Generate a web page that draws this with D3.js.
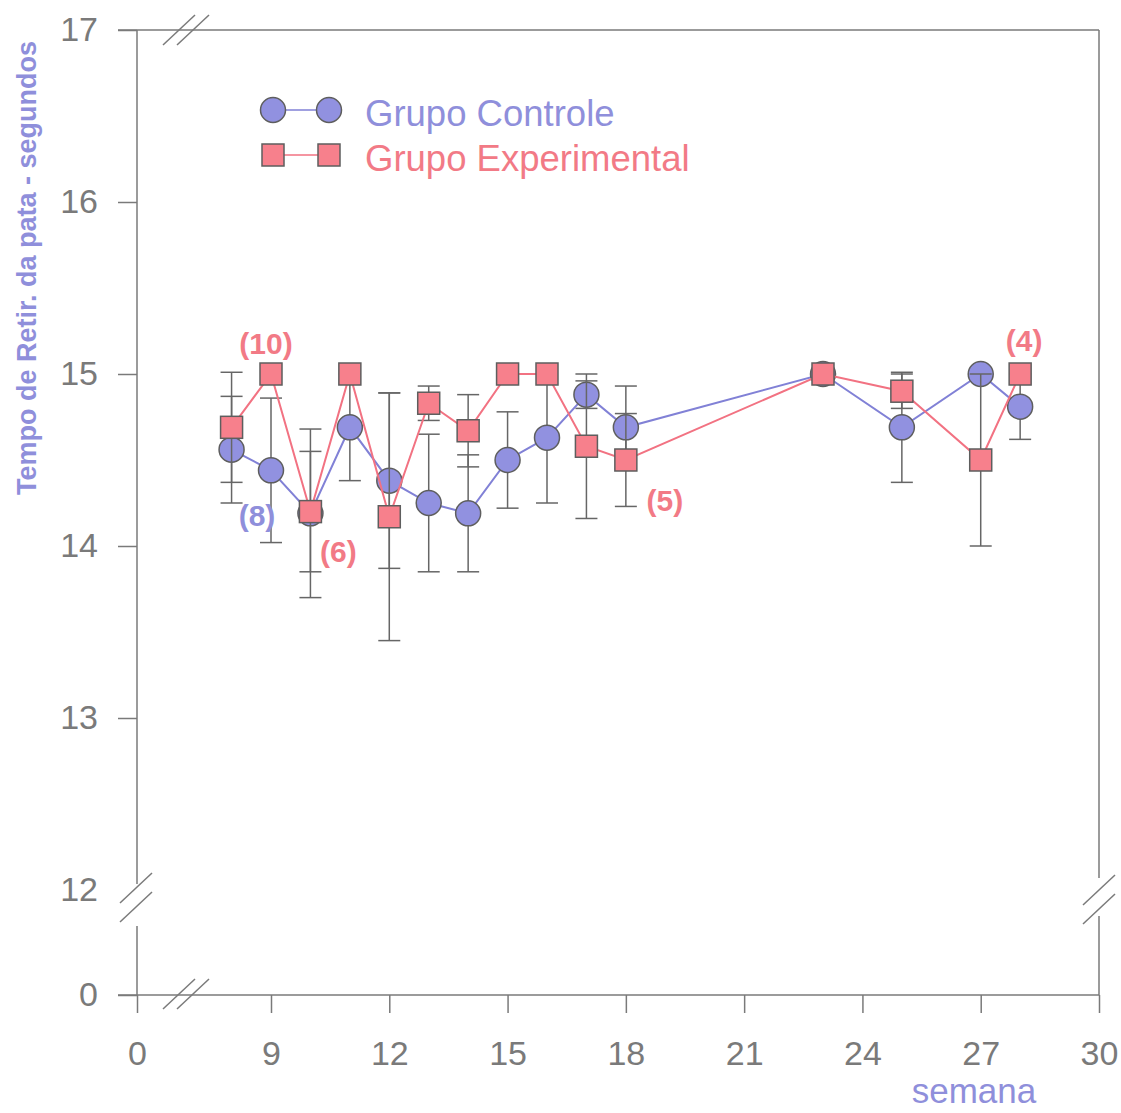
<!DOCTYPE html>
<html>
<head>
<meta charset="utf-8">
<script src="https://cdn.jsdelivr.net/npm/d3@7/dist/d3.min.js"></script>
<style>
  html, body { margin: 0; padding: 0; background: #fff; }
  svg { display: block; font-family: "Liberation Sans", Arial, sans-serif; }
</style>
</head>
<body>
<svg id="chart" width="1121" height="1113"></svg>
<script>
// Weeks of measurement
const weeks = [8, 9, 10, 11, 12, 13, 14, 15, 16, 17, 18, 23, 25, 27, 28];

// Grupo Controle: mean paw withdrawal time (s) and error
const controlMean = [14.56, 14.44, 14.19, 14.69, 14.38, 14.25, 14.19, 14.50, 14.63, 14.88, 14.69, 15.00, 14.69, 15.00, 14.81];
const controlErr  = [0.31, 0.42, 0.49, 0.31, 0.51, 0.40, 0.34, 0.28, 0.38, 0.08, 0.24, 0, 0.32, 0, 0.19];

// Grupo Experimental: mean paw withdrawal time (s) and error
const experimentalMean = [14.69, 15.00, 14.20, 15.00, 14.17, 14.83, 14.67, 15.00, 15.00, 14.58, 14.50, 15.00, 14.90, 14.50, 15.00];
const experimentalErr  = [0.32, 0, 0.35, 0, 0.72, 0.10, 0.21, 0, 0, 0.42, 0.27, 0, 0.10, 0.50, 0];

// Axis ticks (both axes are broken: 0 -> 7 on x, 0 -> 12 on y)
const xTicks = [0, 9, 12, 15, 18, 21, 24, 27, 30];
const yTicks = [0, 12, 13, 14, 15, 16, 17];

// Sample sizes written next to the series
const noteTexts = ["(10)", "(8)", "(6)", "(5)", "(4)"];
const noteWeeks = [9, 9, 10, 18, 28];

const seriesNames = ["Grupo Controle", "Grupo Experimental"];

const C = {
  axis: "#7a7a7a",
  tick: "#7a7a7a",
  err: "#666666",
  marker: "#5e5e5e",
  blueFill: "#9191e0",
  blueLine: "#8181d6",
  blueText: "#8f8fdb",
  redFill: "#f7808c",
  redLine: "#f27282",
  redText: "#f27a86"
};

const svg = d3.select("#chart");

// Piecewise scales reproduce the axis breaks (linear from week 7 onward, from 12 s upward)
const pxPerWeek = (1099 - 271) / 21;
const x = d3.scaleLinear().domain([0, 7, 30]).range([137, 271 - 2 * pxPerWeek, 1099]);
const y = d3.scaleLinear().domain([0, 12, 17]).range([995, 890, 30]);

const plotLeft = x(0), plotRight = x(30), plotTop = y(17), plotBottom = y(0);

// ---- frame ----
const frame = svg.append("g").attr("stroke", C.axis).attr("stroke-width", 1.5).attr("fill", "none");
// top line
frame.append("line").attr("x1", plotLeft - 19).attr("x2", plotRight).attr("y1", plotTop).attr("y2", plotTop);
// right line with a gap for the break
frame.append("line").attr("x1", plotRight).attr("x2", plotRight).attr("y1", plotTop).attr("y2", 878);
frame.append("line").attr("x1", plotRight).attr("x2", plotRight).attr("y1", 916).attr("y2", plotBottom);

// ---- y axis ----
const yAxis = d3.axisLeft(y).tickValues(yTicks).tickSize(19).tickPadding(20).tickFormat(d3.format("d"));
const gy = svg.append("g").attr("transform", `translate(${plotLeft},0)`).call(yAxis);
gy.select(".domain").remove();
gy.selectAll(".tick line").attr("stroke", C.axis).attr("stroke-width", 1.5)
  .filter(d => d === 12).remove();
gy.selectAll(".tick text").attr("fill", C.tick).attr("font-size", 34)
  .attr("font-family", "Liberation Sans, Arial, sans-serif");
// y axis line with a gap for the break
frame.append("line").attr("x1", plotLeft).attr("x2", plotLeft).attr("y1", plotTop).attr("y2", 884);
frame.append("line").attr("x1", plotLeft).attr("x2", plotLeft).attr("y1", 926).attr("y2", plotBottom);

// ---- x axis ----
const xAxis = d3.axisBottom(x).tickValues(xTicks).tickSize(18).tickPadding(28).tickFormat(d3.format("d"));
const gx = svg.append("g").attr("transform", `translate(0,${plotBottom})`).call(xAxis);
gx.select(".domain").remove();
gx.selectAll(".tick line").attr("stroke", C.axis).attr("stroke-width", 1.5);
gx.selectAll(".tick text").attr("fill", C.tick).attr("font-size", 34)
  .attr("font-family", "Liberation Sans, Arial, sans-serif");
frame.append("line").attr("x1", plotLeft - 19).attr("x2", plotRight).attr("y1", plotBottom).attr("y2", plotBottom);

// ---- break marks "//" ----
const slash = (x0, y0) => {
  frame.append("line").attr("x1", x0).attr("y1", y0).attr("x2", x0 + 32).attr("y2", y0 - 30);
};
// on the x axis (bottom and top)
slash(163, 1009); slash(177, 1009);
slash(163, 45); slash(177, 45);
// on the y axis (left and right)
slash(120, 903); slash(120, 922);
slash(1083, 905); slash(1083, 924);

// ---- axis titles ----
svg.append("text")
  .attr("transform", `translate(36,${268}) rotate(-90)`)
  .attr("text-anchor", "middle")
  .attr("font-size", 27).attr("font-weight", "bold")
  .attr("fill", C.blueText)
  .text("Tempo de Retir. da pata - segundos");

svg.append("text")
  .attr("x", 974).attr("y", 1103)
  .attr("text-anchor", "middle")
  .attr("font-size", 35)
  .attr("fill", C.blueText)
  .text("semana");

// ---- series ----
const control = weeks.map((w, i) => ({ w, m: controlMean[i], e: controlErr[i] }));
const experimental = weeks.map((w, i) => ({ w, m: experimentalMean[i], e: experimentalErr[i] }));

const line = d3.line().x(d => x(d.w)).y(d => y(d.m));
const capW = 11;

function errorBars(data) {
  const g = svg.append("g").attr("stroke", C.err).attr("stroke-width", 1.5);
  data.filter(d => d.e > 0).forEach(d => {
    const cx = x(d.w), y1 = y(d.m + d.e), y2 = y(d.m - d.e);
    g.append("line").attr("x1", cx).attr("x2", cx).attr("y1", y1).attr("y2", y2);
    g.append("line").attr("x1", cx - capW).attr("x2", cx + capW).attr("y1", y1).attr("y2", y1);
    g.append("line").attr("x1", cx - capW).attr("x2", cx + capW).attr("y1", y2).attr("y2", y2);
  });
}

// Controle
errorBars(control);
svg.append("path").datum(control).attr("d", line)
  .attr("fill", "none").attr("stroke", C.blueLine).attr("stroke-width", 2);
svg.append("g").selectAll("circle").data(control).join("circle")
  .attr("cx", d => x(d.w)).attr("cy", d => y(d.m)).attr("r", 12.5)
  .attr("fill", C.blueFill).attr("stroke", C.marker).attr("stroke-width", 1.5);

// Experimental
errorBars(experimental);
svg.append("path").datum(experimental).attr("d", line)
  .attr("fill", "none").attr("stroke", C.redLine).attr("stroke-width", 2);
const sq = 22;
svg.append("g").selectAll("rect").data(experimental).join("rect")
  .attr("x", d => x(d.w) - sq / 2).attr("y", d => y(d.m) - sq / 2)
  .attr("width", sq).attr("height", sq)
  .attr("fill", C.redFill).attr("stroke", C.marker).attr("stroke-width", 1.5);

// ---- sample size notes ----
const noteStyle = [
  { series: experimental, dx: -5, dy: -31, color: C.redText },
  { series: control, dx: -14, dy: 45, color: C.blueText },
  { series: experimental, dx: 28, dy: 40, color: C.redText },
  { series: experimental, dx: 39, dy: 40, color: C.redText },
  { series: experimental, dx: 4, dy: -34, color: C.redText }
];
noteTexts.forEach((t, i) => {
  const s = noteStyle[i];
  const d = s.series.find(p => p.w === noteWeeks[i]);
  svg.append("text")
    .attr("x", x(d.w) + s.dx).attr("y", y(d.m) + s.dy)
    .attr("text-anchor", "middle").attr("dominant-baseline", "central")
    .attr("font-size", 30).attr("font-weight", "bold")
    .attr("fill", s.color)
    .text(t);
});

// ---- legend ----
const lg = svg.append("g");
lg.append("line").attr("x1", 273).attr("x2", 329).attr("y1", 110).attr("y2", 110)
  .attr("stroke", C.blueLine).attr("stroke-width", 1.5);
[273, 329].forEach(cx => lg.append("circle").attr("cx", cx).attr("cy", 110).attr("r", 12.5)
  .attr("fill", C.blueFill).attr("stroke", C.marker).attr("stroke-width", 1.5));
lg.append("text").attr("x", 365).attr("y", 113).attr("dominant-baseline", "central")
  .attr("font-size", 36.5).attr("fill", C.blueText).text(seriesNames[0]);

lg.append("line").attr("x1", 273).attr("x2", 329).attr("y1", 155).attr("y2", 155)
  .attr("stroke", C.redLine).attr("stroke-width", 1.5);
[273, 329].forEach(cx => lg.append("rect").attr("x", cx - sq / 2).attr("y", 155 - sq / 2)
  .attr("width", sq).attr("height", sq)
  .attr("fill", C.redFill).attr("stroke", C.marker).attr("stroke-width", 1.5));
lg.append("text").attr("x", 365).attr("y", 158).attr("dominant-baseline", "central")
  .attr("font-size", 36.5).attr("fill", C.redText).text(seriesNames[1]);
</script>
</body>
</html>
